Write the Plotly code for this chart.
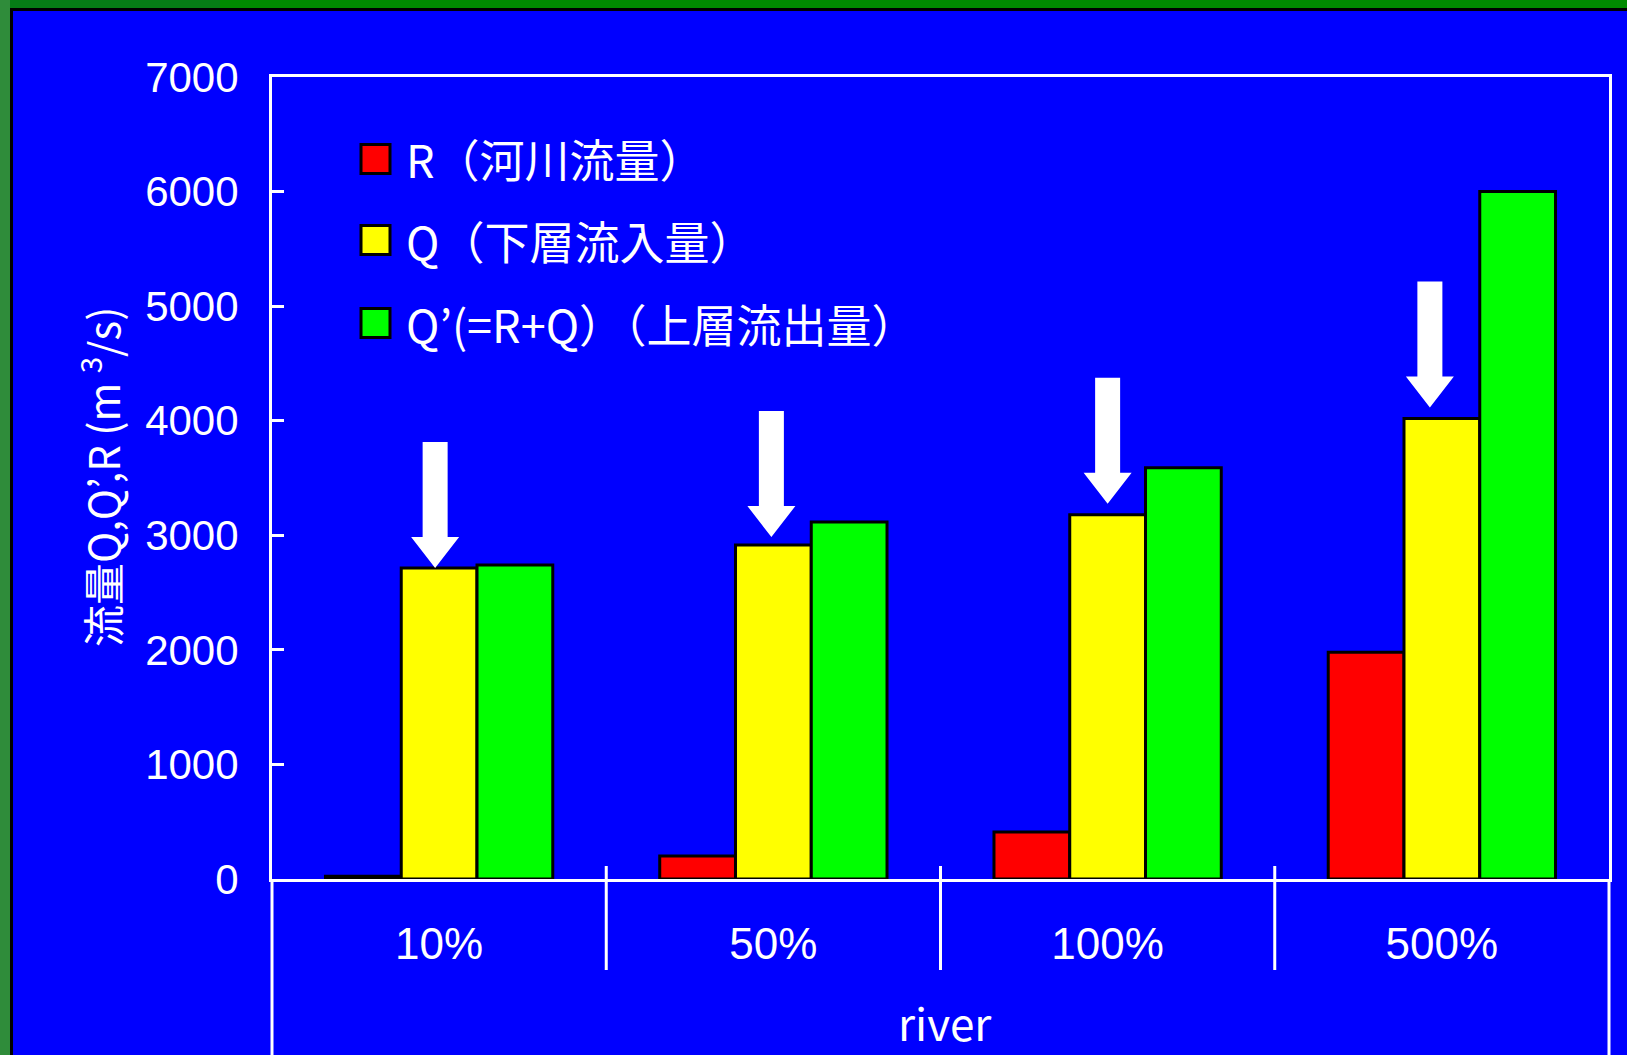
import plotly.graph_objects as go

# Flow rates for each river-discharge scenario (m3/s)
categories = ["10%", "50%", "100%", "500%"]
series_names = ["R（河川流量）", "Q（下層流入量）", "Q’(=R+Q）（上層流出量）"]
r_flow = [25, 200, 410, 1980]
q_flow = [2715, 2915, 3180, 4020]
qp_flow = [2740, 3115, 3590, 6000]
y_ticks = [0, 1000, 2000, 3000, 4000, 5000, 6000, 7000]

colors = ["#FF0000", "#FFFF00", "#00FF00"]
BLUE = "#0000FF"
WHITE = "#FFFFFF"

W, H = 1627, 1055
ML, MR, MT, MB = 272, 18, 77, 176
PW, PH = W - ML - MR, H - MT - MB

NUM = "Liberation Sans Narrow, Arial Narrow, Liberation Sans, sans-serif"
CJK = "Noto Sans CJK JP, sans-serif"


def px_x(px):
    return (px - ML) / PW


def px_y(py):
    return (H - MB - py) / PH


xpos = list(range(len(categories)))

fig = go.Figure()
for name, vals, col in zip(series_names, [r_flow, q_flow, qp_flow], colors):
    fig.add_trace(go.Bar(
        x=xpos, y=vals, name=name,
        marker=dict(color=col, line=dict(color="black", width=3)),
        showlegend=False,
    ))

shapes = []

# outer slide border
shapes += [
    dict(type="rect", xref="paper", yref="paper", x0=px_x(0), x1=px_x(W), y0=px_y(0), y1=px_y(9),
         fillcolor="#008A00", line_width=0, layer="below"),
    dict(type="rect", xref="paper", yref="paper", x0=px_x(0), x1=px_x(220), y0=px_y(0), y1=px_y(9),
         fillcolor="#067C16", line_width=0, layer="below"),
    dict(type="rect", xref="paper", yref="paper", x0=px_x(0), x1=px_x(10), y0=px_y(0), y1=px_y(H),
         fillcolor="#2F8C3A", line_width=0, layer="below"),
    dict(type="rect", xref="paper", yref="paper", x0=px_x(10), x1=px_x(W), y0=px_y(8), y1=px_y(11),
         fillcolor="black", line_width=0, layer="below"),
    dict(type="rect", xref="paper", yref="paper", x0=px_x(10), x1=px_x(13), y0=px_y(8), y1=px_y(H),
         fillcolor="black", line_width=0, layer="below"),
]

# frame extensions below the category axis and category separators
for xp in (0.0, 1.0):
    shapes.append(dict(type="line", xref="paper", yref="paper", x0=xp, x1=xp, y0=0, y1=px_y(H),
                       line=dict(color=WHITE, width=3)))
for i in range(1, len(categories)):
    shapes.append(dict(type="line", xref="x", yref="paper", x0=i - 0.5, x1=i - 0.5,
                       y0=px_y(970), y1=px_y(866), line=dict(color=WHITE, width=3)))

# down arrows pointing at the Q bars (per-arrow pixel nudges)
arrow_dx = [-4, -2, 0, -12]
arrow_gap = [0, 8, 11, 11]
head_len, total_len, shaft_half, head_half = 31, 126, 12.5, 24
for i, qv in enumerate(q_flow):
    dx, tip = arrow_dx[i], arrow_gap[i]
    path = (f"M {dx},{tip} L {dx - head_half},{tip + head_len} L {dx - shaft_half},{tip + head_len} "
            f"L {dx - shaft_half},{tip + total_len} L {dx + shaft_half},{tip + total_len} "
            f"L {dx + shaft_half},{tip + head_len} L {dx + head_half},{tip + head_len} Z")
    shapes.append(dict(type="path", xref="x", yref="y", xsizemode="pixel", ysizemode="pixel",
                       xanchor=i, yanchor=qv, path=path,
                       fillcolor=WHITE, line=dict(color=WHITE, width=0)))

# legend swatches
legend_rows = [159, 240, 323]
for row, col in zip(legend_rows, colors):
    shapes.append(dict(type="rect", xref="paper", yref="paper",
                       x0=px_x(361), x1=px_x(390), y0=px_y(row + 14.5), y1=px_y(row - 14.5),
                       fillcolor=col, line=dict(color="black", width=3)))

annotations = []
for row, name in zip(legend_rows, series_names):
    annotations.append(dict(xref="paper", yref="paper", x=px_x(404), y=px_y(row),
                            xanchor="left", yanchor="middle", showarrow=False, text=name,
                            font=dict(family=CJK, size=45, color=WHITE)))

annotations.append(dict(xref="paper", yref="paper", x=px_x(100), y=px_y(477),
                        xanchor="center", yanchor="middle", showarrow=False, textangle=-90,
                        text="流量Q,Q’,R (m <sup>3</sup>/s)",
                        font=dict(family=CJK, size=42, color=WHITE)))
annotations.append(dict(xref="paper", yref="paper", x=px_x(945), y=px_y(1022),
                        xanchor="center", yanchor="middle", showarrow=False, text="river",
                        font=dict(family=CJK, size=44, color=WHITE)))

fig.update_layout(
    width=W, height=H,
    margin=dict(l=ML, r=MR, t=MT, b=MB, pad=0),
    paper_bgcolor=BLUE, plot_bgcolor=BLUE,
    barmode="group", bargap=0.32, bargroupgap=0,
    shapes=shapes, annotations=annotations,
    xaxis=dict(range=[-0.5, len(categories) - 0.5], tickvals=xpos, ticktext=categories,
               showgrid=False, zeroline=False, showline=True, mirror=True,
               linecolor=WHITE, linewidth=3, ticks="", ticklabelstandoff=24,
               tickfont=dict(family=NUM, size=44, color=WHITE), fixedrange=True),
    yaxis=dict(range=[0, 7000], tickvals=y_ticks, showgrid=False, zeroline=False,
               showline=True, mirror=True, linecolor=WHITE, linewidth=3,
               ticks="inside", ticklen=12, tickwidth=3, tickcolor=WHITE,
               ticklabelstandoff=22,
               tickfont=dict(family=NUM, size=42, color=WHITE), fixedrange=True),
)

fig.write_html("out.html")
